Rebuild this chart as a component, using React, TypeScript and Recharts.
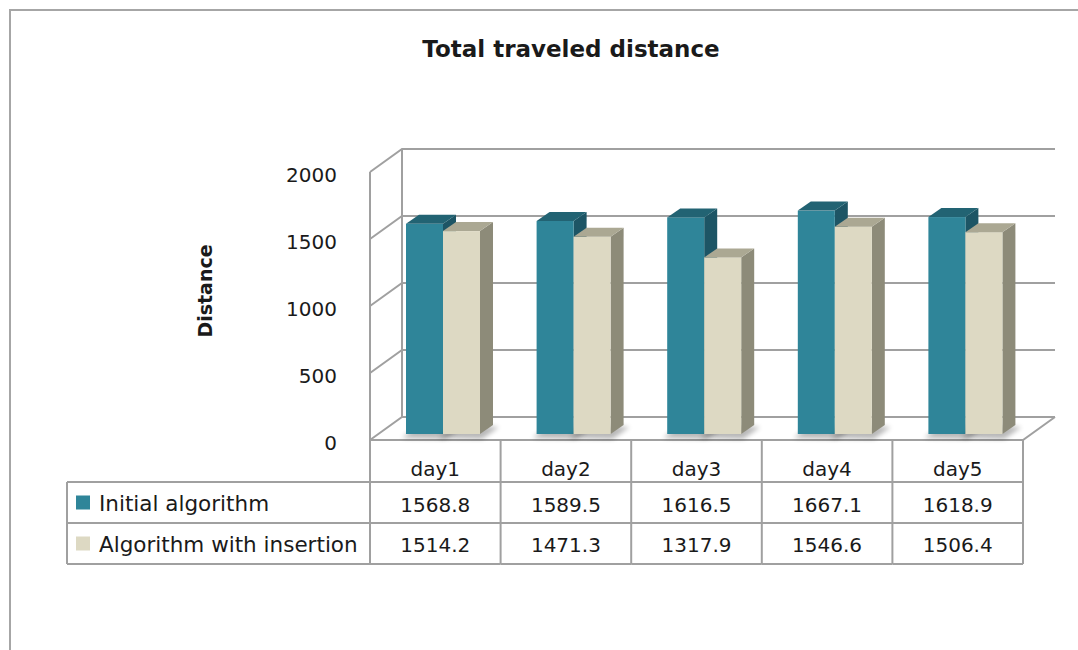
import React from 'react';
import { BarChart, Bar, XAxis, YAxis, CartesianGrid } from 'recharts';

// ---- data ----
const CATEGORIES = ['day1', 'day2', 'day3', 'day4', 'day5'];
const INITIAL = [1568.8, 1589.5, 1616.5, 1667.1, 1618.9];
const INSERTION = [1514.2, 1471.3, 1317.9, 1546.6, 1506.4];
const SERIES_NAMES = ['Initial algorithm', 'Algorithm with insertion'];
const Y_TICKS = [0, 500, 1000, 1500, 2000];
const TITLE = 'Total traveled distance';
const Y_TITLE = 'Distance';

const data = CATEGORIES.map((day, i) => ({ day, initial: INITIAL[i], insertion: INSERTION[i] }));

// ---- layout ----
const W = 1078;
const H = 650;
const PLOT_LEFT = 370;
const PLOT_RIGHT = 1023;
const PLOT_TOP = 172;
const PLOT_BOTTOM = 440;
const XAXIS_H = 130;
const ROW1 = 482;
const ROW2 = 523;
const TABLE_BOTTOM = 564;
const LEGEND_LEFT = 67;

const WALL_DX = 32;
const WALL_DY = -23;
const BAR_SX = 8;
const BAR_SY = -6;
const BAR_DX = 13;
const BAR_DY = -9;

const LINE = '#A0A0A0';
const FONT = '"DejaVu Sans", sans-serif';
const TEXT = '#1a1a1a';

const COLORS = {
  initial: { front: '#2F8599', top: '#226373', side: '#1D5565' },
  insertion: { front: '#DDD9C3', top: '#ABA893', side: '#8D8B79' },
};

const make3DBar = (c: { front: string; top: string; side: string }) => (props: any) => {
  const { x, y, width, height } = props;
  if (x == null || y == null || !width) return <g />;
  const w = width;
  const x0 = x + BAR_SX;
  const yt = y + BAR_SY;
  const yb = y + height + BAR_SY;
  return (
    <g>
      <defs>
        <filter id="barShadowBlur" x="-50%" y="-50%" width="200%" height="200%">
          <feGaussianBlur stdDeviation="2.5" />
        </filter>
      </defs>
      <polygon
        points={`${x0 - 4},${yb + 4} ${x0 + w + 2},${yb + 5} ${x0 + w + BAR_DX + 6},${yb + BAR_DY + 2} ${x0 + BAR_DX},${yb + BAR_DY}`}
        fill="#000"
        opacity={0.28}
        filter="url(#barShadowBlur)"
      />
      <polygon
        points={`${x0 + w},${yt} ${x0 + w + BAR_DX},${yt + BAR_DY} ${x0 + w + BAR_DX},${yb + BAR_DY} ${x0 + w},${yb}`}
        fill={c.side}
      />
      <rect x={x0} y={yt} width={w} height={Math.max(0, yb - yt)} fill={c.front} />
      <polygon
        points={`${x0},${yt} ${x0 + w},${yt} ${x0 + w + BAR_DX},${yt + BAR_DY} ${x0 + BAR_DX},${yt + BAR_DY}`}
        fill={c.top}
      />
    </g>
  );
};

const gridLine = (props: any) => {
  const { x1, y1, x2, key } = props;
  const isTop = Math.abs(y1 - PLOT_TOP) < 1.5;
  const isBottom = Math.abs(y1 - PLOT_BOTTOM) < 1.5;
  return (
    <g key={key}>
      <polyline
        points={`${x1},${y1} ${x1 + WALL_DX},${y1 + WALL_DY} ${x2 + WALL_DX},${y1 + WALL_DY}`}
        fill="none"
        stroke={LINE}
        strokeWidth={2}
      />
      {isTop && (
        <line
          x1={x1 + WALL_DX}
          y1={y1 + WALL_DY}
          x2={x1 + WALL_DX}
          y2={PLOT_BOTTOM + WALL_DY}
          stroke={LINE}
          strokeWidth={2}
        />
      )}
      {isBottom && (
        <polyline
          points={`${x1},${y1} ${x2},${y1} ${x2 + WALL_DX},${y1 + WALL_DY}`}
          fill="none"
          stroke={LINE}
          strokeWidth={2}
        />
      )}
    </g>
  );
};

const YTick = (props: any) => {
  const { payload, y } = props;
  return (
    <text
      x={PLOT_LEFT - 33}
      y={y + 3}
      textAnchor="end"
      dominantBaseline="central"
      fontFamily={FONT}
      fontSize={20}
      fill={TEXT}
    >
      {payload.value}
    </text>
  );
};

const TableTick = (props: any) => {
  const { payload, x } = props;
  const i = payload?.index ?? props.index ?? 0;
  const half =
    payload && payload.offset > 0 ? payload.offset : (PLOT_RIGHT - PLOT_LEFT) / CATEGORIES.length / 2;
  const cx = x;
  const left = cx - half;
  const right = cx + half;
  const textProps = {
    fontFamily: FONT,
    fontSize: 20,
    fill: TEXT,
    textAnchor: 'middle' as const,
  };
  return (
    <g>
      {i === 0 && (
        <g>
          <line x1={left} y1={PLOT_BOTTOM} x2={left} y2={TABLE_BOTTOM} stroke={LINE} strokeWidth={2} />
          {[ROW1, ROW2, TABLE_BOTTOM].map((ry) => (
            <line key={ry} x1={LEGEND_LEFT} y1={ry} x2={left} y2={ry} stroke={LINE} strokeWidth={2} />
          ))}
          <line x1={LEGEND_LEFT} y1={ROW1} x2={LEGEND_LEFT} y2={TABLE_BOTTOM} stroke={LINE} strokeWidth={2} />
          <rect x={LEGEND_LEFT + 9} y={(ROW1 + ROW2) / 2 - 7} width={14} height={14} fill={COLORS.initial.front} />
          <rect x={LEGEND_LEFT + 9} y={(ROW2 + TABLE_BOTTOM) / 2 - 7} width={14} height={14} fill={COLORS.insertion.front} />
          <text x={LEGEND_LEFT + 32} y={ROW1 + 29} fontFamily={FONT} fontSize={21.5} fill={TEXT}>
            {SERIES_NAMES[0]}
          </text>
          <text x={LEGEND_LEFT + 32} y={ROW2 + 29} fontFamily={FONT} fontSize={21.5} fill={TEXT}>
            {SERIES_NAMES[1]}
          </text>
        </g>
      )}
      <line x1={right} y1={PLOT_BOTTOM} x2={right} y2={TABLE_BOTTOM} stroke={LINE} strokeWidth={2} />
      {[ROW1, ROW2, TABLE_BOTTOM].map((ry) => (
        <line key={ry} x1={left} y1={ry} x2={right} y2={ry} stroke={LINE} strokeWidth={2} />
      ))}
      <text x={cx} y={PLOT_BOTTOM + 36} {...textProps}>
        {payload.value}
      </text>
      <text x={cx} y={ROW1 + 30} {...textProps}>
        {INITIAL[i]}
      </text>
      <text x={cx} y={ROW2 + 29} {...textProps}>
        {INSERTION[i]}
      </text>
    </g>
  );
};

export default function App() {
  return (
    <div
      style={{
        position: 'fixed',
        left: 0,
        top: 0,
        width: W,
        height: H,
        overflow: 'hidden',
        background: '#fff',
      }}
    >
      <div
        style={{
          position: 'absolute',
          left: 9,
          top: 9,
          width: W - 9,
          height: H - 9,
          borderTop: '2px solid #A6A6A6',
          borderLeft: '2px solid #A6A6A6',
          boxSizing: 'border-box',
        }}
      />
      <div
        style={{
          position: 'absolute',
          left: 0,
          top: 0,
          width: W,
          height: H,
        }}
      >
        <BarChart
          width={W}
          height={H}
          data={data}
          margin={{ top: PLOT_TOP, right: W - PLOT_RIGHT, bottom: H - PLOT_BOTTOM - XAXIS_H, left: 0 }}
          barCategoryGap={28}
          barGap={0}
        >
          <CartesianGrid vertical={false} horizontal={gridLine as any} />
          <XAxis
            dataKey="day"
            height={XAXIS_H}
            axisLine={false}
            tickLine={false}
            tickSize={0}
            tickMargin={0}
            interval={0}
            tick={TableTick as any}
          />
          <YAxis
            width={PLOT_LEFT}
            domain={[0, 2000]}
            ticks={Y_TICKS}
            tickLine={false}
            axisLine={{ stroke: LINE, strokeWidth: 2 }}
            tick={YTick as any}
          />
          <Bar dataKey="initial" name={SERIES_NAMES[0]} isAnimationActive={false} shape={make3DBar(COLORS.initial)} />
          <Bar dataKey="insertion" name={SERIES_NAMES[1]} isAnimationActive={false} shape={make3DBar(COLORS.insertion)} />
        </BarChart>
      </div>
      <div
        style={{
          position: 'absolute',
          left: 0,
          width: 1142,
          top: 34,
          textAlign: 'center',
          fontFamily: FONT,
          fontWeight: 'bold',
          fontSize: 23,
          color: TEXT,
          lineHeight: '30px',
          whiteSpace: 'nowrap',
        }}
      >
        {TITLE}
      </div>
      <div
        style={{
          position: 'absolute',
          left: 205 - 60,
          top: 291 - 12,
          width: 120,
          height: 24,
          lineHeight: '24px',
          textAlign: 'center',
          transform: 'rotate(-90deg)',
          fontFamily: FONT,
          fontWeight: 'bold',
          fontSize: 19,
          color: TEXT,
          whiteSpace: 'nowrap',
        }}
      >
        {Y_TITLE}
      </div>
    </div>
  );
}
